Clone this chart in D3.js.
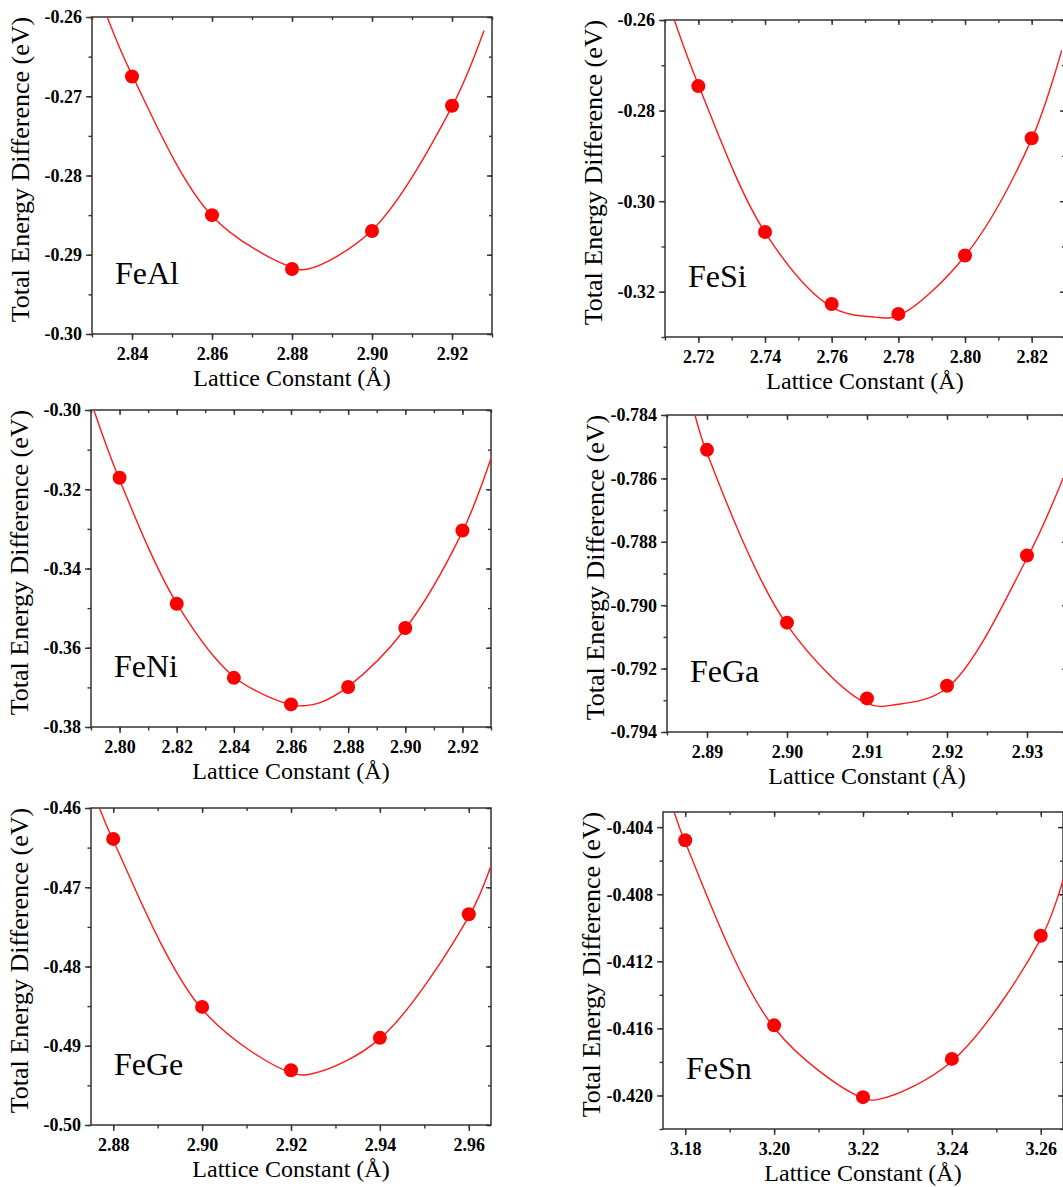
<!DOCTYPE html>
<html>
<head>
<meta charset="utf-8">
<title>Total energy difference vs lattice constant</title>
<script src="https://d3js.org/d3.v7.min.js"></script>
<style>
  body { margin: 0; background: #fff; }
  svg { display: block; }
</style>
</head>
<body>
<div id="chart"></div>
<script>
// ---- data ----
// FeAl
const feAlA = [2.84, 2.86, 2.88, 2.90, 2.92];
const feAlE = [-0.2675, -0.2850, -0.2918, -0.2870, -0.2712];
const feAlFitA = [2.8338, 2.84, 2.86, 2.88, 2.884, 2.90, 2.92, 2.928];
const feAlFitE = [-0.2600, -0.2673, -0.2851, -0.2916, -0.2918, -0.2869, -0.2713, -0.2617];
const feAlXTicks = [2.84, 2.86, 2.88, 2.90, 2.92];
const feAlYTicks = [-0.30, -0.29, -0.28, -0.27, -0.26];

// FeSi
const feSiA = [2.72, 2.74, 2.76, 2.78, 2.80, 2.82];
const feSiE = [-0.2746, -0.3068, -0.3227, -0.3249, -0.3120, -0.2861];
const feSiFitA = [2.7128, 2.72, 2.74, 2.76, 2.773, 2.78, 2.80, 2.82, 2.829];
const feSiFitE = [-0.2600, -0.2743, -0.3069, -0.3234, -0.3256, -0.3253, -0.3121, -0.2863, -0.2667];
const feSiXTicks = [2.72, 2.74, 2.76, 2.78, 2.80, 2.82];
const feSiYTicks = [-0.32, -0.30, -0.28, -0.26];

// FeNi
const feNiA = [2.80, 2.82, 2.84, 2.86, 2.88, 2.90, 2.92];
const feNiE = [-0.3171, -0.3489, -0.3676, -0.3743, -0.3699, -0.3550, -0.3304];
const feNiFitA = [2.791, 2.80, 2.82, 2.84, 2.86, 2.865, 2.87, 2.88, 2.90, 2.92, 2.93];
const feNiFitE = [-0.3000, -0.3176, -0.3488, -0.3673, -0.3744, -0.3746, -0.3739, -0.3698, -0.3552, -0.3307, -0.3122];
const feNiXTicks = [2.80, 2.82, 2.84, 2.86, 2.88, 2.90, 2.92];
const feNiYTicks = [-0.38, -0.36, -0.34, -0.32, -0.30];

// FeGa
const feGaA = [2.89, 2.90, 2.91, 2.92, 2.93];
const feGaE = [-0.7851, -0.79055, -0.79294, -0.79254, -0.78843];
const feGaFitA = [2.8885, 2.89, 2.90, 2.91, 2.9135, 2.92, 2.93, 2.9345];
const feGaFitE = [-0.7840, -0.7852, -0.79062, -0.7931, -0.79314, -0.79261, -0.78852, -0.7860];
const feGaXTicks = [2.89, 2.90, 2.91, 2.92, 2.93];
const feGaYTicks = [-0.794, -0.792, -0.790, -0.788, -0.786, -0.784];

// FeGe
const feGeA = [2.88, 2.90, 2.92, 2.94, 2.96];
const feGeE = [-0.4639, -0.4851, -0.4931, -0.4890, -0.4734];
const feGeFitA = [2.8769, 2.88, 2.90, 2.92, 2.925, 2.94, 2.96, 2.965];
const feGeFitE = [-0.4600, -0.4641, -0.4854, -0.4934, -0.4935, -0.4891, -0.4737, -0.4673];
const feGeXTicks = [2.88, 2.90, 2.92, 2.94, 2.96];
const feGeYTicks = [-0.50, -0.49, -0.48, -0.47, -0.46];

// FeSn
const feSnA = [3.18, 3.20, 3.22, 3.24, 3.26];
const feSnE = [-0.40478, -0.41582, -0.42010, -0.41782, -0.41048];
const feSnFitA = [3.1775, 3.18, 3.20, 3.22, 3.224, 3.24, 3.26, 3.265];
const feSnFitE = [-0.4031, -0.4049, -0.41596, -0.42016, -0.42020, -0.41796, -0.41066, -0.40716];
const feSnXTicks = [3.18, 3.20, 3.22, 3.24, 3.26];
const feSnYTicks = [-0.420, -0.416, -0.412, -0.408, -0.404];

const names = ["FeAl", "FeSi", "FeNi", "FeGa", "FeGe", "FeSn"];

// ---- panel setup (domains, minor steps, label decimals, placement) ----
const panels = [
  {name: names[0], a: feAlA, e: feAlE, fa: feAlFitA, fe: feAlFitE, xt: feAlXTicks, yt: feAlYTicks,
   xd: [2.83, 2.93], yd: [-0.30, -0.26], xm: 0.01, ym: 0.005, xf: 2, yf: 2, left: 92, top: 17},
  {name: names[1], a: feSiA, e: feSiE, fa: feSiFitA, fe: feSiFitE, xt: feSiXTicks, yt: feSiYTicks,
   xd: [2.71, 2.83], yd: [-0.33, -0.26], xm: 0.01, ym: 0.01, xf: 2, yf: 2, left: 665, top: 20},
  {name: names[2], a: feNiA, e: feNiE, fa: feNiFitA, fe: feNiFitE, xt: feNiXTicks, yt: feNiYTicks,
   xd: [2.79, 2.93], yd: [-0.38, -0.30], xm: 0.01, ym: 0.01, xf: 2, yf: 2, left: 91, top: 410},
  {name: names[3], a: feGaA, e: feGaE, fa: feGaFitA, fe: feGaFitE, xt: feGaXTicks, yt: feGaYTicks,
   xd: [2.885, 2.935], yd: [-0.794, -0.784], xm: 0.005, ym: 0.001, xf: 2, yf: 3, left: 667, top: 415},
  {name: names[4], a: feGeA, e: feGeE, fa: feGeFitA, fe: feGeFitE, xt: feGeXTicks, yt: feGeYTicks,
   xd: [2.875, 2.965], yd: [-0.50, -0.46], xm: 0.01, ym: 0.005, xf: 2, yf: 2, left: 91, top: 808},
  {name: names[5], a: feSnA, e: feSnE, fa: feSnFitA, fe: feSnFitE, xt: feSnXTicks, yt: feSnYTicks,
   xd: [3.175, 3.265], yd: [-0.422, -0.4031], xm: 0.01, ym: 0.002, xf: 2, yf: 3, left: 663, top: 812}
];

const W = 1063, H = 1187;
const pw = 400, ph = 317;
const serif = "'Liberation Serif', 'Times New Roman', Times, serif";
const axisColor = "#333";

const svg = d3.select("#chart").append("svg")
    .attr("width", W)
    .attr("height", H);

function minorTicks(dom, step) {
    // every step inside the domain, with a small tolerance
    let lo = Math.ceil((dom[0] - 1e-9) / step), hi = Math.floor((dom[1] + 1e-9) / step);
    return d3.range(lo, hi + 1).map(k => +(k * step).toFixed(6));
}

function styleAxis(g) {
    g.select(".domain").remove();
    g.selectAll("line").attr("stroke", axisColor).attr("stroke-width", 1.4);
}

panels.forEach(function(p, i) {
    let x = d3.scaleLinear().domain(p.xd).range([0, pw]);
    let y = d3.scaleLinear().domain(p.yd).range([ph, 0]);

    let g = svg.append("g")
        .attr("transform", "translate(" + p.left + "," + p.top + ")");

    g.append("clipPath").attr("id", "clip" + i)
      .append("rect").attr("width", pw).attr("height", ph);

    let xMinor = minorTicks(p.xd, p.xm);
    let yMinor = minorTicks(p.yd, p.ym);

    // minor ticks: outside on bottom/left, inside on top/right
    g.append("g").attr("transform", "translate(0," + ph + ")")
        .call(d3.axisBottom(x).tickValues(xMinor).tickSize(3.5).tickFormat(""))
        .call(styleAxis);
    g.append("g")
        .call(d3.axisLeft(y).tickValues(yMinor).tickSize(3.5).tickFormat(""))
        .call(styleAxis);
    g.append("g")
        .call(d3.axisTop(x).tickValues(xMinor).tickSize(-3).tickFormat(""))
        .call(styleAxis);
    g.append("g").attr("transform", "translate(" + pw + ",0)")
        .call(d3.axisRight(y).tickValues(yMinor).tickSize(-3).tickFormat(""))
        .call(styleAxis);

    // major ticks
    let xAxis = g.append("g").attr("transform", "translate(0," + ph + ")")
        .call(d3.axisBottom(x).tickValues(p.xt).tickSize(6)
              .tickFormat(d => d.toFixed(p.xf)))
        .call(styleAxis);
    xAxis.selectAll("text")
        .attr("y", 26).attr("dy", null)
        .attr("fill", "#000")
        .attr("font-family", serif)
        .attr("font-weight", "bold")
        .attr("font-size", "18px");

    let yAxis = g.append("g")
        .call(d3.axisLeft(y).tickValues(p.yt).tickSize(6)
              .tickFormat(d => d.toFixed(p.yf)))
        .call(styleAxis);
    yAxis.selectAll("text")
        .attr("x", -10).attr("dy", "0.33em")
        .attr("fill", "#000")
        .attr("font-family", serif)
        .attr("font-weight", "bold")
        .attr("font-size", "18px");

    g.append("g")
        .call(d3.axisTop(x).tickValues(p.xt).tickSize(-5).tickFormat(""))
        .call(styleAxis);
    g.append("g").attr("transform", "translate(" + pw + ",0)")
        .call(d3.axisRight(y).tickValues(p.yt).tickSize(-5).tickFormat(""))
        .call(styleAxis);

    // frame
    g.append("rect")
        .attr("width", pw).attr("height", ph)
        .attr("fill", "none")
        .attr("stroke", axisColor)
        .attr("stroke-width", 1.5);

    // fitted curve
    let fit = p.fa.map((a, k) => [a, p.fe[k]]);
    let line = d3.line()
        .x(d => x(d[0]))
        .y(d => y(d[1]))
        .curve(d3.curveCatmullRom.alpha(0.5));
    g.append("path")
        .datum(fit)
        .attr("clip-path", "url(#clip" + i + ")")
        .attr("d", line)
        .attr("fill", "none")
        .attr("stroke", "#ff1a1a")
        .attr("stroke-width", 1.4);

    // calculated points
    g.selectAll("circle.pt")
        .data(p.a.map((a, k) => [a, p.e[k]]))
        .enter()
        .append("circle")
        .attr("class", "pt")
        .attr("cx", d => x(d[0]))
        .attr("cy", d => y(d[1]))
        .attr("r", 7)
        .attr("fill", "#ff0000");

    // compound label
    g.append("text")
        .attr("x", 23).attr("y", 267)
        .attr("font-family", serif)
        .attr("font-size", "32px")
        .attr("fill", "#000")
        .text(p.name);

    // axis titles
    g.append("text")
        .attr("x", pw / 2).attr("y", ph + 52)
        .attr("text-anchor", "middle")
        .attr("font-family", serif)
        .attr("font-size", "24px")
        .attr("fill", "#000")
        .text("Lattice Constant (Å)");

    g.append("text")
        .attr("transform", "translate(-63," + (ph / 2 - 6) + ") rotate(-90)")
        .attr("text-anchor", "middle")
        .attr("font-family", serif)
        .attr("font-size", "26px")
        .attr("fill", "#000")
        .text("Total Energy Difference (eV)");
});
</script>
</body>
</html>
